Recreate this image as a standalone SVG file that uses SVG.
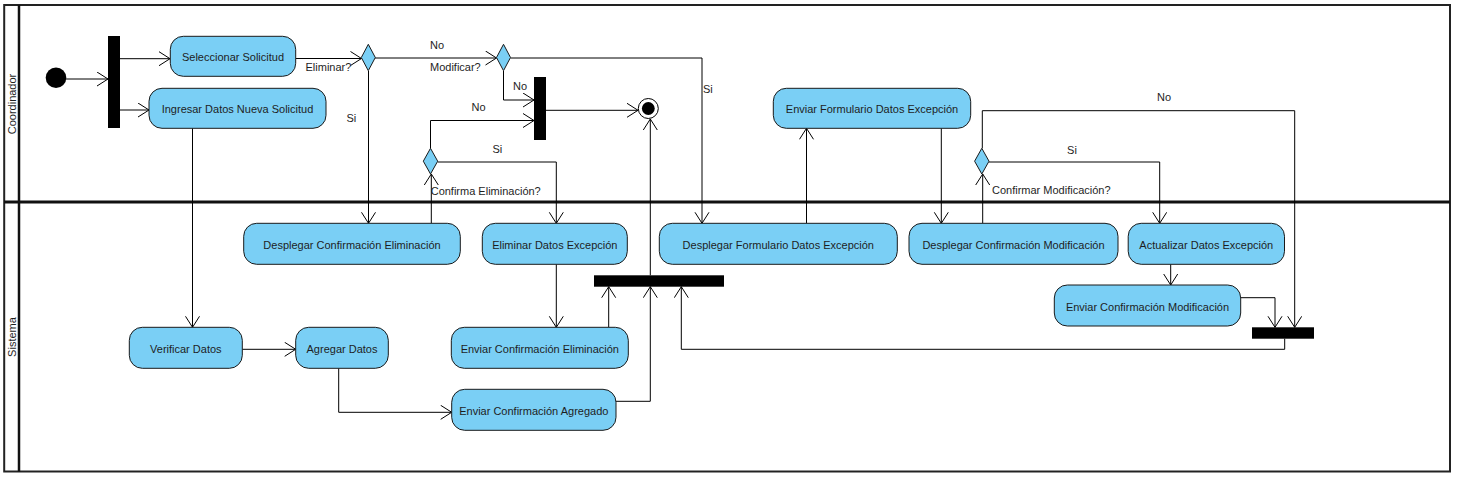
<svg xmlns="http://www.w3.org/2000/svg" width="1457" height="480" viewBox="0 0 1457 480">
<style>
.frame{fill:none;stroke:#222;stroke-width:2}
.node rect.act{fill:#7ACFF5;stroke:#1a1a1a;stroke-width:1}
.dec{fill:#7ACFF5;stroke:#1a1a1a;stroke-width:1}
.bar{fill:#000}
.t{font-family:"Liberation Sans",Arial,sans-serif;font-size:11px;fill:#1e1e1e}
.c{text-anchor:middle}
.conn path{fill:none;stroke:#000;stroke-width:1;marker-end:url(#arr)}
</style>
<defs>
<marker id="arr" markerUnits="userSpaceOnUse" markerWidth="14" markerHeight="16" refX="11.5" refY="7.5" orient="auto">
<path d="M0.5,0.5 L11.5,7.5 L0.5,14.5" fill="none" stroke="#000" stroke-width="1"/>
</marker>
</defs>
<rect width="1457" height="480" fill="#fff"/>
<g id="lanes">
<rect class="frame" x="4.2" y="5" width="1445.8" height="466.5"/>
<line x1="19" y1="5" x2="19" y2="471.5" stroke="#111" stroke-width="2.5"/>
<line x1="4.2" y1="202" x2="1450" y2="202" stroke="#111" stroke-width="3"/>
<text class="t c" transform="translate(15.5,104) rotate(-90)">Coordinador</text>
<text class="t c" transform="translate(15.5,337) rotate(-90)">Sistema</text>
</g>
<g class="conn" id="connectors">
<path d="M66,79 H108"/>
<path d="M120,58.7 H170"/>
<path d="M120,110 H149"/>
<path d="M296,58.5 H361.5"/>
<path d="M375,58 H496.5"/>
<path d="M368.5,71 V223.3"/>
<path d="M510.5,58 H702 V223.3"/>
<path d="M503.5,71 V100 H534"/>
<path d="M546,110.3 H638"/>
<path d="M192.5,128.3 V327.3"/>
<path d="M242.3,349.3 H295.7"/>
<path d="M338.7,368.3 V412.3 H451.7"/>
<path d="M616,401.3 H650.3 V286.7"/>
<path d="M650.3,275.3 V119"/>
<path d="M431.3,223.3 V174"/>
<path d="M430.5,148.3 V120.5 H534"/>
<path d="M437.7,162 H556.3 V223.3"/>
<path d="M556.3,264.3 V327.3"/>
<path d="M608.7,327.3 V286.7"/>
<path d="M806.5,223.3 V128.3"/>
<path d="M941.3,128.3 V223.3"/>
<path d="M982.7,223.3 V174"/>
<path d="M989,162 H1159.7 V223.3"/>
<path d="M982.3,148.3 V110.7 H1294.7 V327.3"/>
<path d="M1170.7,264.3 V285"/>
<path d="M1240.7,297.7 H1275 V327.3"/>
<path d="M1284.7,338.7 V349.3 H681.3 V286.7"/>
</g>
<g id="labels">
<text class="t" x="305.5" y="70.5">Eliminar?</text>
<text class="t" x="430" y="49">No</text>
<text class="t" x="430" y="70.5">Modificar?</text>
<text class="t" x="346.5" y="122">Si</text>
<text class="t" x="513" y="90">No</text>
<text class="t" x="703" y="93">Si</text>
<text class="t" x="471.5" y="111">No</text>
<text class="t c" x="497.3" y="153">Si</text>
<text class="t" x="430.7" y="194.5">Confirma Eliminación?</text>
<text class="t" x="1157" y="101">No</text>
<text class="t c" x="1072" y="153.5">Si</text>
<text class="t" x="992" y="194">Confirmar Modificación?</text>
</g>
<g id="initial"><circle cx="56" cy="77.7" r="10.3" fill="#000"/></g>
<g id="final"><circle cx="648.3" cy="108.5" r="10" fill="#fff" stroke="#000" stroke-width="1"/><circle cx="648.3" cy="108.5" r="6.4" fill="#000"/></g>
<g id="fork1"><rect class="bar" x="108" y="36" width="12" height="92"/></g>
<g id="fork2"><rect class="bar" x="534" y="77" width="12" height="63"/></g>
<g id="join1"><rect class="bar" x="594" y="275.3" width="130" height="11.4"/></g>
<g id="join2"><rect class="bar" x="1252" y="327.3" width="62" height="11.4"/></g>
<g id="dec1"><path class="dec" d="M368.3,44.3 L375.3,57.5 L368.3,70.7 L361.3,57.5 Z"/></g>
<g id="dec2"><path class="dec" d="M503.5,44.3 L510.5,57.5 L503.5,70.7 L496.5,57.5 Z"/></g>
<g id="dec3"><path class="dec" d="M430.5,148.3 L437.7,161.2 L430.5,174 L423.3,161.2 Z"/></g>
<g id="dec4"><path class="dec" d="M981.8,148.3 L989,161.2 L981.8,174 L974.6,161.2 Z"/></g>
<g class="node" id="n1"><rect class="act" x="170.3" y="36.3" width="125.4" height="40" rx="13"/><text class="t c" x="233" y="61">Seleccionar Solicitud</text></g>
<g class="node" id="n2"><rect class="act" x="149" y="88.3" width="177" height="40" rx="13"/><text class="t c" x="237.5" y="113">Ingresar Datos Nueva Solicitud</text></g>
<g class="node" id="n3"><rect class="act" x="243.7" y="223.3" width="216.6" height="41" rx="13"/><text class="t c" x="352" y="248.5">Desplegar Confirmación Eliminación</text></g>
<g class="node" id="n4"><rect class="act" x="482.3" y="223.3" width="145" height="41" rx="13"/><text class="t c" x="554.8" y="248.5">Eliminar Datos Excepción</text></g>
<g class="node" id="n5"><rect class="act" x="659.3" y="223.3" width="238" height="41" rx="13"/><text class="t c" x="778.3" y="248.5">Desplegar Formulario Datos Excepción</text></g>
<g class="node" id="n6"><rect class="act" x="773.3" y="88.3" width="197.4" height="40" rx="13"/><text class="t c" x="872" y="113">Enviar Formulario Datos Excepción</text></g>
<g class="node" id="n7"><rect class="act" x="909" y="223.3" width="209" height="41" rx="13"/><text class="t c" x="1013.5" y="248.5">Desplegar Confirmación Modificación</text></g>
<g class="node" id="n8"><rect class="act" x="1128.2" y="223.3" width="156.3" height="41" rx="13"/><text class="t c" x="1206.3" y="248.5">Actualizar Datos Excepción</text></g>
<g class="node" id="n9"><rect class="act" x="1054.3" y="285" width="186.4" height="41" rx="13"/><text class="t c" x="1147.5" y="310.5">Enviar Confirmación Modificación</text></g>
<g class="node" id="n10"><rect class="act" x="129.3" y="327.3" width="113" height="41" rx="13"/><text class="t c" x="185.8" y="352.5">Verificar Datos</text></g>
<g class="node" id="n11"><rect class="act" x="295.7" y="327.3" width="92.6" height="41" rx="13"/><text class="t c" x="342" y="352.5">Agregar Datos</text></g>
<g class="node" id="n12"><rect class="act" x="451.3" y="327.3" width="177" height="41" rx="13"/><text class="t c" x="539.8" y="352.5">Enviar Confirmación Eliminación</text></g>
<g class="node" id="n13"><rect class="act" x="451.7" y="389.3" width="164.3" height="41" rx="13"/><text class="t c" x="533.8" y="414.5">Enviar Confirmación Agregado</text></g>
</svg>
